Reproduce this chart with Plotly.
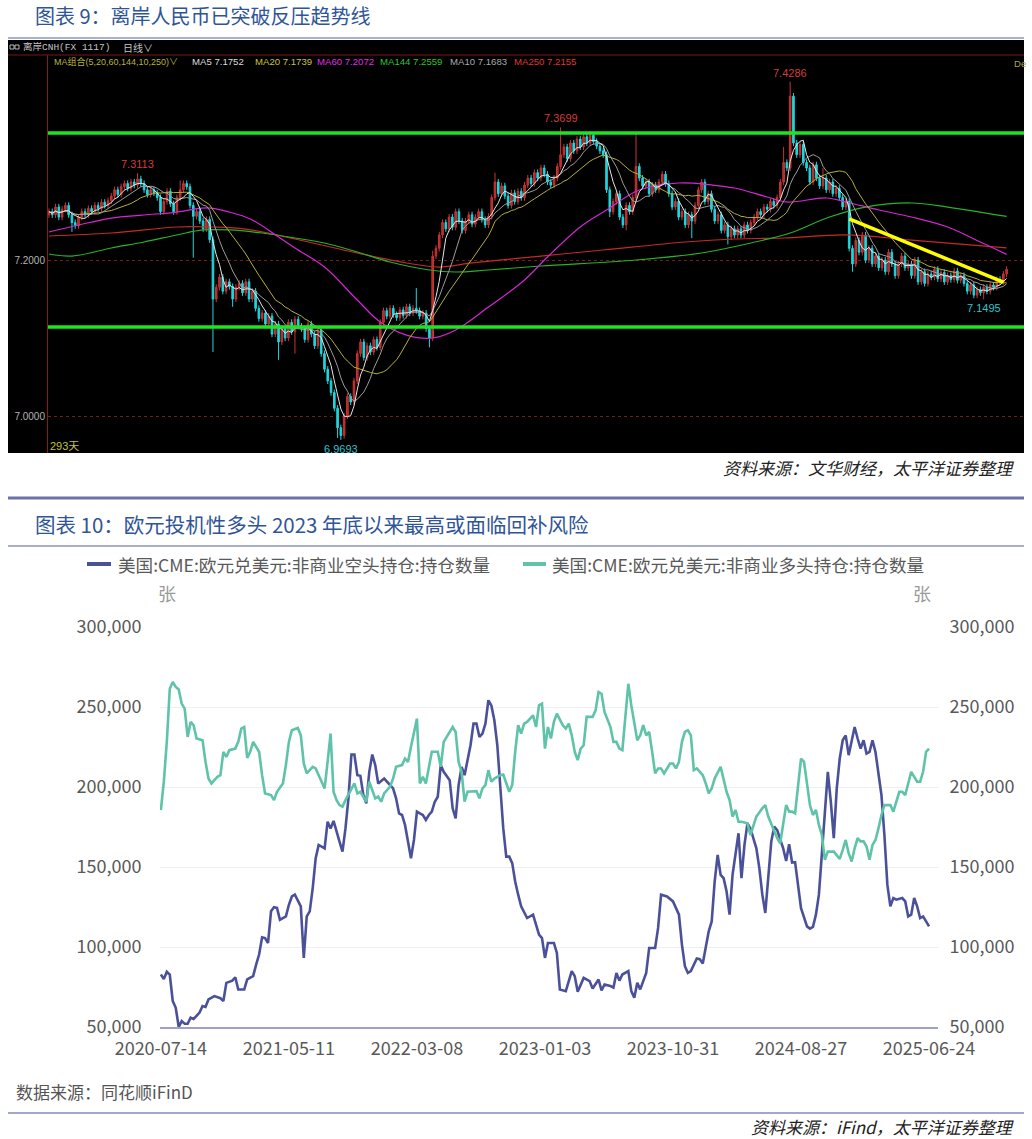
import numpy as np
import pandas as pd
import plotly.graph_objects as go

W, H = 1032, 1139


def px(x):
    return x / W


def py(y):
    return 1 - y / H


# ---------------- 图表9 data (离岸人民币 日线) ----------------
cnh_first_open = 7.258
cnh_close = [
    7.262, 7.258, 7.268, 7.255, 7.265, 7.270, 7.258, 7.248, 7.244, 7.255, 7.262, 7.258, 7.266,
    7.262, 7.270, 7.266, 7.274, 7.270, 7.276, 7.282,
    7.290, 7.284, 7.294, 7.298, 7.292, 7.300, 7.296, 7.304,
    7.298, 7.290, 7.284, 7.290, 7.286,
    7.280, 7.262, 7.275, 7.288, 7.272, 7.262, 7.280,
    7.290, 7.298, 7.294,
    7.270, 7.256, 7.262, 7.250,
    7.240, 7.252, 7.226,
    7.150,
    7.165, 7.178, 7.160, 7.172, 7.166, 7.150, 7.165,
    7.170, 7.158, 7.172, 7.150, 7.160,
    7.138, 7.125, 7.132, 7.118,
    7.128, 7.105, 7.118, 7.095, 7.112, 7.100,
    7.120, 7.108, 7.124, 7.115,
    7.112, 7.098, 7.118, 7.105, 7.090, 7.110,
    7.080, 7.060, 7.045, 7.030,
    7.010, 6.985, 6.975,
    7.000, 7.025, 7.018,
    7.045, 7.080, 7.095,
    7.075, 7.090, 7.082, 7.098, 7.088,
    7.120, 7.135, 7.128,
    7.138, 7.130, 7.126, 7.136, 7.129, 7.140, 7.132, 7.138, 7.135, 7.128, 7.132,
    7.112, 7.100,
    7.205, 7.215,
    7.232, 7.248, 7.240,
    7.255, 7.242, 7.262, 7.250, 7.238,
    7.250, 7.258, 7.246, 7.255, 7.262, 7.252, 7.245, 7.256,
    7.280, 7.300, 7.285, 7.295,
    7.282, 7.270, 7.286, 7.275, 7.288, 7.280,
    7.296, 7.305, 7.298, 7.312, 7.305, 7.318,
    7.310, 7.300, 7.296, 7.305, 7.320,
    7.335,
    7.345, 7.330, 7.350, 7.340, 7.355, 7.345, 7.358, 7.350, 7.360, 7.352, 7.346, 7.340, 7.335,
    7.290, 7.262,
    7.275, 7.285, 7.255, 7.245, 7.270, 7.262, 7.280,
    7.320,
    7.305, 7.295, 7.300, 7.285, 7.296, 7.290, 7.300,
    7.310, 7.298,
    7.285, 7.268, 7.275, 7.255, 7.262, 7.245, 7.258, 7.250,
    7.270, 7.290, 7.300, 7.275, 7.285, 7.265,
    7.250, 7.258, 7.238, 7.245, 7.230, 7.240, 7.232,
    7.240, 7.232, 7.245, 7.238, 7.248,
    7.255, 7.262, 7.258, 7.268, 7.265, 7.275, 7.270, 7.280,
    7.300, 7.325, 7.318,
    7.410, 7.350,
    7.335, 7.348, 7.325,
    7.318, 7.300, 7.322, 7.305, 7.295,
    7.305, 7.290, 7.300, 7.285, 7.292, 7.280, 7.268, 7.275,
    7.215,
    7.195, 7.225, 7.210, 7.232, 7.200, 7.215, 7.195,
    7.205, 7.190, 7.200, 7.185, 7.210, 7.195, 7.180, 7.195, 7.205, 7.190,
    7.195, 7.180, 7.200, 7.172, 7.185, 7.170, 7.182,
    7.178, 7.188, 7.176, 7.184, 7.172, 7.180, 7.175, 7.186, 7.174, 7.180,
    7.170, 7.160, 7.168, 7.155, 7.162, 7.158, 7.165, 7.160,
    7.168, 7.165, 7.175, 7.172, 7.182, 7.188,
]
cnh_spike_high = {27: 7.3113, 40: 7.302, 112: 7.164, 117: 7.212, 136: 7.312,
                  156: 7.3699, 165: 7.365, 179: 7.363, 224: 7.345, 226: 7.4286,
                  236: 7.318}
cnh_spike_low = {7: 7.236, 44: 7.203, 50: 7.082, 56: 7.140, 70: 7.072, 75: 7.080,
                 88: 6.972, 89: 6.9693, 116: 7.088, 171: 7.255, 176: 7.238,
                 196: 7.228, 207: 7.220, 245: 7.185, 285: 7.1495}
WICK = 0.004

ma60_bars = [0, 9, 19, 29, 39, 48, 55, 62, 70, 75, 84, 94, 101, 109, 117, 124, 134,
             145, 152, 162, 170, 180, 192, 202, 209, 219, 225, 237, 243, 253, 263, 274, 284, 292]
ma60_vals = [7.2359, 7.2449, 7.2538, 7.2577, 7.2615, 7.2667, 7.2615, 7.2513, 7.2295, 7.2154,
             7.1910, 7.1487, 7.1205, 7.1038, 7.1000, 7.1103, 7.1397, 7.1744, 7.2038, 7.2423,
             7.2641, 7.2897, 7.2987, 7.2962, 7.2923, 7.2808, 7.2744, 7.2795, 7.2744, 7.2641,
             7.2551, 7.2423, 7.2231, 7.2072]
ma144_bars = [0, 7, 19, 29, 39, 47, 55, 65, 75, 84, 94, 104, 116, 124, 134, 150, 179, 199,
              214, 226, 238, 249, 263, 274, 292]
ma144_vals = [7.2077, 7.2051, 7.2154, 7.2231, 7.2321, 7.2385, 7.2385, 7.2346, 7.2282, 7.2218,
              7.2103, 7.1974, 7.1872, 7.1846, 7.1872, 7.1923, 7.2000, 7.2090, 7.2218, 7.2346,
              7.2551, 7.2679, 7.2731, 7.2679, 7.2559]
ma250_bars = [0, 19, 39, 50, 60, 75, 94, 109, 119, 129, 150, 169, 194, 209, 224, 243, 263, 292]
ma250_vals = [7.2308, 7.2346, 7.2423, 7.2423, 7.2397, 7.2269, 7.2090, 7.1962, 7.1910, 7.1962,
              7.2051, 7.2128, 7.2231, 7.2269, 7.2282, 7.2321, 7.2256, 7.2155]

level_lines = [7.3628, 7.1141]
trend_bars = [244, 291]
trend_vals = [7.2526, 7.1718]
price_ticks = [7.0, 7.2]
label_bars = [(27, "high"), (89, "low"), (156, "high"), (226, "high"), (285, "low")]

ma_legend = [
    ("MA组合(5,20,60,144,10,250)∨", "#b9b23c", 52, 9.0),
    ("MA5 7.1752", "#dcdcdc", 190, 9.6),
    ("MA20 7.1739", "#c9c23a", 253, 9.6),
    ("MA60 7.2072", "#e02ee0", 315, 9.6),
    ("MA144 7.2559", "#2ec42e", 378, 9.6),
    ("MA10 7.1683", "#a8a8a8", 448, 9.6),
    ("MA250 7.2155", "#e03535", 512, 9.6),
]

# ---------------- 图表10 data (CME 欧元兑美元 非商业持仓) ----------------
start_date = "2020-07-14"
short_weeks = [0, 1, 2, 3, 4, 5, 6, 7, 8, 9, 10, 11, 13, 14, 15, 16, 18, 20, 21, 22, 24, 25, 26, 28,
               29, 31, 32, 33, 34, 35, 36, 37, 38, 39, 40, 42, 43, 44, 45, 46, 47, 48, 49, 50, 51,
               52, 53, 55, 56, 57, 58, 60, 61, 62, 63, 64, 65, 66, 67, 68, 69, 70, 71, 72, 73, 75,
               76, 78, 79, 80, 81, 82, 83, 84, 85, 86, 87, 88, 89, 90, 91, 92, 93, 94, 95, 97, 98,
               99, 100, 101, 102, 103, 104, 105, 106, 107, 108, 109, 110, 111, 112, 113, 114, 115,
               116, 117, 118, 119, 120, 121, 123, 125, 126, 127, 128, 129, 130, 132, 133, 134, 136,
               137, 138, 139, 140, 142, 144, 145, 147, 148, 149, 151, 152, 153, 154, 155, 157, 158,
               159, 160, 161, 163, 164, 166, 167, 168, 170, 172, 173, 174, 175, 176, 177, 178, 180,
               181, 182, 183, 184, 185, 186, 187, 188, 189, 190, 191, 192, 194, 195, 196, 197, 198,
               200, 201, 202, 203, 204, 205, 206, 207, 209, 210, 211, 212, 213, 214, 215, 217, 218,
               219, 220, 221, 222, 223, 224, 225, 226, 227, 228, 229, 230, 231, 232, 233, 234, 235,
               236, 237, 238, 239, 240, 241, 242, 243, 244, 245, 246, 247, 249, 250, 251, 252, 253,
               254, 255, 256, 257, 258]
short_vals = [82800, 80000, 84500, 82800, 66200, 62000, 50000, 53700, 52000, 52000, 55800, 55000,
              59000, 63100, 62500, 67200, 69300, 68000, 66200, 77600, 79000, 81100, 73400, 73400,
              79700, 81800, 89000, 95300, 106000, 105600, 102500, 122300, 124800, 124400, 117000,
              119100, 126400, 131600, 132700, 128500, 125400, 93200, 119100, 122300, 136800,
              155500, 163800, 161700, 178300, 174100, 178800, 165900, 159600, 174100, 192900,
              220300, 220300, 207400, 207000, 195000, 189800, 209500, 220300, 213700, 202200,
              205300, 203300, 199100, 192900, 183500, 182500, 176300, 165900, 155500, 166900,
              184600, 183500, 182500, 179400, 182500, 184600, 190800, 193900, 213700, 209500,
              204300, 186700, 180400, 201200, 212600, 207400, 215700, 226100, 239600, 239600,
              231300, 233400, 239600, 254200, 251000, 241700, 226100, 201200, 174100, 156500,
              156500, 152400, 140900, 132700, 125400, 118100, 120200, 114000, 107700, 105600,
              93200, 102500, 102500, 96300, 73500, 72400, 78700, 84900, 81800, 72000, 80700,
              78700, 74100, 79700, 72800, 76600, 75600, 74600, 83800, 79000, 82800, 84900, 72400,
              68300, 77600, 73500, 83800, 99400, 99400, 111900, 132700, 131600, 128500, 124300,
              120200, 101500, 88000, 83800, 84900, 92800, 92400, 89700, 99400, 109800, 116000,
              141000, 157600, 145100, 143000, 134700, 120200, 145100, 171100, 143000, 163800,
              177300, 174100, 161700, 149300, 132700, 121300, 145100, 165900, 175200, 173100,
              161700, 153800, 164200, 152800, 153000, 138800, 124300, 112900, 111500, 112500,
              120200, 132700, 157600, 180400, 209500, 190800, 168000, 199100, 217800, 229200,
              232300, 219900, 229200, 237500, 230300, 224000, 229200, 220900, 221900, 229200,
              221900, 209500, 195000, 170000, 138800, 125400, 130600, 129600, 130600, 128500,
              119100, 120200, 130600, 125400, 118100, 119100, 116000, 112900]
long_weeks = [0, 1, 2, 3, 4, 5, 6, 7, 8, 9, 10, 11, 12, 14, 15, 16, 17, 19, 20, 21, 22, 23, 25, 26,
              27, 28, 29, 30, 31, 33, 34, 35, 37, 38, 39, 41, 42, 43, 44, 46, 47, 48, 49, 51, 52,
              54, 55, 56, 57, 58, 59, 60, 61, 62, 64, 65, 66, 67, 69, 70, 72, 73, 74, 75, 77, 78,
              79, 81, 82, 83, 84, 86, 87, 88, 89, 90, 91, 93, 94, 95, 97, 98, 99, 100, 101, 102,
              103, 104, 106, 107, 108, 109, 110, 111, 112, 114, 115, 117, 118, 119, 120, 121, 122,
              123, 125, 126, 127, 128, 129, 130, 131, 132, 133, 135, 136, 137, 138, 139, 140, 141,
              142, 143, 145, 146, 147, 148, 149, 151, 152, 153, 154, 155, 156, 157, 158, 159, 160,
              161, 162, 163, 164, 165, 166, 167, 168, 169, 171, 172, 173, 174, 175, 176, 177, 178,
              179, 180, 182, 183, 184, 185, 186, 188, 189, 190, 191, 192, 193, 194, 195, 197, 198,
              199, 200, 202, 203, 204, 206, 207, 208, 209, 210, 211, 212, 213, 214, 215, 216, 217,
              218, 219, 220, 221, 222, 223, 224, 226, 228, 229, 230, 231, 232, 233, 234, 235, 236,
              237, 238, 239, 240, 241, 242, 243, 244, 245, 246, 247, 248, 249, 250, 251, 252, 254,
              255, 256, 257, 258]
long_vals = [185600, 203300, 228200, 261400, 265600, 262500, 261000, 252100, 249000, 231300,
             240700, 238600, 230300, 229200, 215700, 205300, 202200, 206400, 207400, 222000,
             218800, 223000, 224000, 228200, 236500, 237500, 218200, 222000, 228200, 222000,
             207400, 196000, 195000, 191800, 197000, 202200, 213700, 228200, 235500, 236900,
             232300, 214700, 208500, 212600, 211600, 203300, 199100, 215700, 233400, 197000,
             191800, 188700, 187700, 191800, 199100, 202200, 196000, 197000, 190800, 203300,
             192900, 194000, 190800, 196000, 200200, 205300, 212600, 213700, 217800, 215700,
             225100, 242700, 202200, 206400, 202200, 211600, 222000, 222000, 212600, 228200,
             234400, 237500, 234400, 215700, 209500, 190800, 197000, 197000, 197400, 192900,
             199100, 201200, 210500, 203300, 205300, 207400, 207800, 197000, 201200, 222000,
             238600, 233400, 239600, 240700, 244800, 237500, 251000, 252100, 224000, 237500,
             230300, 240700, 245800, 238600, 236500, 239600, 232300, 222000, 216800, 224000,
             226100, 243800, 243800, 247900, 259300, 258300, 246900, 237500, 228200, 228200,
             224000, 223000, 241700, 264500, 251000, 238600, 229200, 232300, 238600, 232300,
             234400, 222000, 208500, 211600, 211600, 208500, 214700, 214700, 211600, 215700,
             228200, 234400, 235500, 232300, 210500, 211600, 207400, 202200, 196000, 199100,
             205300, 212600, 205300, 197000, 191800, 181500, 185600, 178300, 178300, 177300,
             170000, 176300, 181500, 186700, 188700, 181500, 172200, 168000, 164800, 176300,
             188700, 184600, 184600, 183500, 199100, 217800, 215700, 201200, 188700, 182500,
             185600, 176300, 170000, 154500, 159600, 159600, 155100, 160700, 166900, 158600,
             153400, 161700, 168000, 166000, 166000, 162800, 154500, 163800, 166900, 174100,
             182500, 188700, 188700, 188700, 184600, 190800, 197000, 197000, 195000, 202200,
             209500, 203300, 203300, 209500, 222000, 224000]
tick_dates = ["2020-07-14", "2021-05-11", "2022-03-08", "2023-01-03",
              "2023-10-31", "2024-08-27", "2025-06-24"]
y_ticks = [50000, 100000, 150000, 200000, 250000, 300000]
series_names = ["美国:CME:欧元兑美元:非商业空头持仓:持仓数量",
                "美国:CME:欧元兑美元:非商业多头持仓:持仓数量"]
series_colors = ["#4b5199", "#5ec3a8"]

# ---------------- build candle table ----------------
closes = np.array(cnh_close)
opens = np.concatenate([[cnh_first_open], closes[:-1]])
bars = np.arange(len(closes))
highs = np.maximum(opens, closes) + WICK
lows = np.minimum(opens, closes) - WICK
for b, v in cnh_spike_high.items():
    highs[b] = v
for b, v in cnh_spike_low.items():
    lows[b] = v
cs = pd.Series(closes)
ma5 = cs.rolling(5, min_periods=1).mean()
ma10 = cs.rolling(10, min_periods=1).mean()
ma20 = cs.rolling(20, min_periods=1).mean()

FONT = "Noto Sans CJK SC, Noto Sans, sans-serif"
fig = go.Figure()

fig.add_trace(go.Candlestick(
    x=bars, open=opens, high=highs, low=lows, close=closes,
    increasing=dict(line=dict(color="#c93434", width=1), fillcolor="#b02a2a"),
    decreasing=dict(line=dict(color="#1fd6de", width=1), fillcolor="#1fd6de"),
    whiskerwidth=0, showlegend=False, xaxis="x", yaxis="y", hoverinfo="skip"))

for bx, vals, col, w, shape in [
    (ma250_bars, ma250_vals, "#c42a2a", 1.2, "spline"),
    (ma144_bars, ma144_vals, "#26b326", 1.2, "spline"),
    (ma60_bars, ma60_vals, "#d426d4", 1.2, "spline"),
]:
    fig.add_trace(go.Scatter(x=bx, y=vals, mode="lines", line=dict(color=col, width=w, shape=shape),
                             showlegend=False, xaxis="x", yaxis="y", hoverinfo="skip"))
for series, col in [(ma20, "#b4b03a"), (ma10, "#9c9c9c"), (ma5, "#e6e6e6")]:
    fig.add_trace(go.Scatter(x=bars, y=series, mode="lines", line=dict(color=col, width=1),
                             showlegend=False, xaxis="x", yaxis="y", hoverinfo="skip"))

fig.add_trace(go.Scatter(x=trend_bars, y=trend_vals, mode="lines",
                         line=dict(color="#ffff00", width=3.5), showlegend=False,
                         xaxis="x", yaxis="y", hoverinfo="skip"))

# ---------------- chart 10 traces ----------------
t0 = pd.Timestamp(start_date)
short_dates = t0 + pd.to_timedelta(np.array(short_weeks) * 7, unit="D")
long_dates = t0 + pd.to_timedelta(np.array(long_weeks) * 7, unit="D")
fig.add_trace(go.Scatter(x=short_dates, y=short_vals, mode="lines", name=series_names[0],
                         line=dict(color=series_colors[0], width=2.6), showlegend=False,
                         xaxis="x2", yaxis="y2"))
fig.add_trace(go.Scatter(x=long_dates, y=long_vals, mode="lines", name=series_names[1],
                         line=dict(color=series_colors[1], width=2.6), showlegend=False,
                         xaxis="x2", yaxis="y3"))

# ---------------- shapes ----------------
shapes = [
    dict(type="rect", xref="paper", yref="paper", x0=px(8), x1=px(1024), y0=py(453), y1=py(40),
         fillcolor="#000000", line=dict(width=0), layer="below"),
    dict(type="line", xref="paper", yref="paper", x0=px(8), x1=px(1024), y0=py(55), y1=py(55),
         line=dict(color="#7c1616", width=1)),
    dict(type="line", xref="paper", yref="paper", x0=px(8), x1=px(1024), y0=py(38), y1=py(38),
         line=dict(color="#aab0d2", width=2)),
    dict(type="line", xref="paper", yref="paper", x0=px(8), x1=px(1024), y0=py(498), y1=py(498),
         line=dict(color="#6c72aa", width=3)),
    dict(type="line", xref="paper", yref="paper", x0=px(8), x1=px(1024), y0=py(546), y1=py(546),
         line=dict(color="#a9add0", width=2)),
    dict(type="line", xref="paper", yref="paper", x0=px(8), x1=px(1024), y0=py(1113), y1=py(1113),
         line=dict(color="#a3a7cd", width=2)),
    # header icon of the trading-software panel
    dict(type="rect", xref="paper", yref="paper", x0=px(10), x1=px(14), y0=py(49), y1=py(45),
         line=dict(color="#b8b8b8", width=1)),
    dict(type="rect", xref="paper", yref="paper", x0=px(15), x1=px(19), y0=py(49), y1=py(45),
         line=dict(color="#b8b8b8", width=1)),
    # legend symbols for chart 10
    dict(type="line", xref="paper", yref="paper", x0=px(87), x1=px(111), y0=py(564), y1=py(564),
         line=dict(color=series_colors[0], width=4)),
    dict(type="line", xref="paper", yref="paper", x0=px(523), x1=px(546), y0=py(564), y1=py(564),
         line=dict(color=series_colors[1], width=4)),
]
for lv in level_lines:
    shapes.append(dict(type="line", xref="x domain", yref="y", x0=0, x1=1, y0=lv, y1=lv,
                       line=dict(color="#1ee61e", width=3.5)))

# ---------------- annotations ----------------
ann = []


def text(x, y, s, size, color, anchor="left", family=FONT, italic=False):
    if italic:
        s = "<i>" + s + "</i>"
    ann.append(dict(x=px(x), y=py(y), xref="paper", yref="paper", text=s, showarrow=False,
                    xanchor=anchor, yanchor="middle", font=dict(size=size, color=color, family=family)))


text(33, 16, "图表 9：离岸人民币已突破反压趋势线", 20, "#2f5597")
text(21, 47, "离岸CNH(FX 1117)", 9.5, "#c4c4c4", family="Liberation Mono, Noto Sans CJK SC")
text(121, 47, "日线∨", 10, "#c4c4c4")
for s, col, x, fs in ma_legend:
    text(x, 62, s, fs, col, family="Liberation Sans, Noto Sans CJK SC")
text(1012, 63, "De", 9.6, "#a8a83a", family="Liberation Sans")
text(48, 446, "293天", 11, "#c8c23a", family="Liberation Sans, Noto Sans CJK SC")

for b, kind in label_bars:
    if kind == "high":
        ann.append(dict(x=b, y=highs[b], xref="x", yref="y", text=f"{highs[b]:.4f}", showarrow=False,
                        yanchor="bottom", yshift=1, font=dict(size=11, color="#d23c3c", family="Liberation Sans")))
    else:
        ann.append(dict(x=b, y=lows[b], xref="x", yref="y", text=f"{lows[b]:.4f}", showarrow=False,
                        yanchor="top", yshift=-1, font=dict(size=11, color="#2cc4cc", family="Liberation Sans")))

text(1016, 467, "资料来源：文华财经，太平洋证券整理", 17, "#222222", anchor="right", italic=True)
text(33, 524, "图表 10：欧元投机性多头 2023 年底以来最高或面临回补风险", 20.5, "#2f5597")
text(116, 564, series_names[0], 17.6, "#595959")
text(550, 564, series_names[1], 17.6, "#595959")
text(167, 593, "张", 18, "#9a9a9a", anchor="center")
text(922, 593, "张", 18, "#9a9a9a", anchor="center")
text(14, 1091, "数据来源：同花顺iFinD", 17, "#555555")
text(1016, 1126, "资料来源：iFind，太平洋证券整理", 17, "#222222", anchor="right", italic=True)

# ---------------- layout ----------------
fig.update_layout(
    width=W, height=H, autosize=False,
    margin=dict(l=0, r=0, t=0, b=0, pad=0, autoexpand=False),
    paper_bgcolor="white", plot_bgcolor="rgba(0,0,0,0)",
    font=dict(family=FONT),
    showlegend=False,
    shapes=shapes, annotations=ann,
    xaxis=dict(domain=[px(48), px(1024)], anchor="y", range=[-0.3, 297.3], automargin=False,
               visible=False, rangeslider=dict(visible=False), fixedrange=True),
    yaxis=dict(domain=[py(453), py(55)], anchor="x", range=[6.9526, 7.4628], automargin=False,
               tickvals=price_ticks, ticktext=[f"{v:.4f}" for v in price_ticks],
               tickfont=dict(size=10, color="#b4b4b4", family="Liberation Sans"),
               showgrid=True, gridcolor="#7a1c1c", griddash="dot", gridwidth=1,
               zeroline=False, showline=True, linecolor="#8b1a1a", linewidth=1, ticks="",
               fixedrange=True),
    xaxis2=dict(domain=[px(160), px(938)], anchor="y2", type="date", automargin=False,
                range=["2020-07-12", "2025-07-15"], tickvals=tick_dates, ticktext=tick_dates,
                tickfont=dict(size=18, color="#595959"), showgrid=False, zeroline=False,
                showline=True, linecolor="#9ca1c9", linewidth=2, ticks="outside", ticklen=4,
                tickcolor="rgba(0,0,0,0)"),
    yaxis2=dict(domain=[py(1027), py(627)], anchor="x2", range=[50000, 300000], automargin=False,
                tickvals=y_ticks, tickformat=",", tickfont=dict(size=18, color="#595959"),
                showgrid=True, gridcolor="#efefef", zeroline=False, showline=False,
                ticks="outside", ticklen=14, tickcolor="rgba(0,0,0,0)"),
    yaxis3=dict(overlaying="y2", side="right", anchor="x2", range=[50000, 300000], automargin=False,
                tickvals=y_ticks, tickformat=",", tickfont=dict(size=18, color="#595959"),
                showgrid=False, zeroline=False, showline=False,
                ticks="outside", ticklen=7, tickcolor="rgba(0,0,0,0)"),
)

fig.write_html("out.html", config={"displayModeBar": False},
               post_script="document.body.style.margin='0';document.body.style.overflow='hidden';")
